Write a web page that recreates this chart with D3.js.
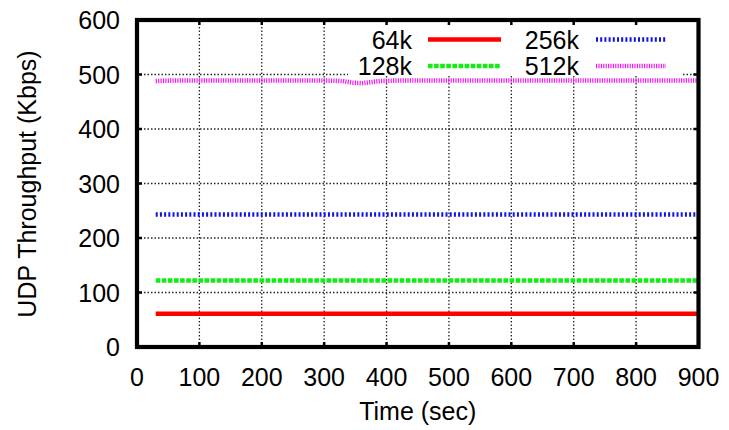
<!DOCTYPE html>
<html>
<head>
<meta charset="utf-8">
<script src="https://cdn.jsdelivr.net/npm/d3@7"></script>
<style>
  html, body { margin: 0; padding: 0; background: #fff; }
  svg { display: block; font-family: "Liberation Sans", Arial, Helvetica, sans-serif; }
</style>
</head>
<body>
<svg id="chart" width="729" height="430"></svg>
<script>
// ---- data ----
const times = [30, 60, 90, 120, 150, 180, 210, 240, 270, 300, 330, 345, 360, 375, 390, 420, 450, 480, 510, 540, 570, 600, 630, 660, 690, 720, 750, 780, 810, 840, 870, 900];
const s64k  = [61, 61, 61, 61, 61, 61, 61, 61, 61, 61, 61, 61, 61, 61, 61, 61, 61, 61, 61, 61, 61, 61, 61, 61, 61, 61, 61, 61, 61, 61, 61, 61];
const s128k = [122, 122, 122, 122, 122, 122, 122, 122, 122, 122, 122, 122, 122, 122, 122, 122, 122, 122, 122, 122, 122, 122, 122, 122, 122, 122, 122, 122, 122, 122, 122, 122];
const s256k = [243, 243, 243, 243, 243, 243, 243, 243, 243, 243, 243, 243, 243, 243, 243, 243, 243, 243, 243, 243, 243, 243, 243, 243, 243, 243, 243, 243, 243, 243, 243, 243];
const s512k = [488, 489, 489, 489, 489, 489, 489, 489, 489, 489, 488, 485, 484, 486, 488, 489, 489, 489, 489, 489, 489, 489, 489, 489, 489, 489, 489, 489, 489, 489, 489, 489];
const seriesNames = ["64k", "128k", "256k", "512k"];
const xTicks = [0, 100, 200, 300, 400, 500, 600, 700, 800, 900];
const yTicks = [0, 100, 200, 300, 400, 500, 600];

const seriesStyle = {
  "64k":  { color: "#ff0000", dash: null },
  "128k": { color: "#11ee11", dash: "4.6,1.5" },
  "256k": { color: "#1111ee", dash: "2,2.2" },
  "512k": { color: "#f01cf0", dash: "1.2,1.2" }
};
const seriesData = { "64k": s64k, "128k": s128k, "256k": s256k, "512k": s512k };

const svg = d3.select("#chart");
const L = 137, R = 698.5, T = 20, B = 347;
const x = d3.scaleLinear().domain([0, 900]).range([L, R]);
const y = d3.scaleLinear().domain([0, 600]).range([B, T]);
const fs = 25;

// grid
const grid = svg.append("g");
grid.selectAll("line.gx").data(xTicks.slice(1, -1)).enter().append("line")
  .attr("x1", d => x(d)).attr("x2", d => x(d)).attr("y1", B).attr("y2", T)
  .attr("stroke", "#000").attr("stroke-width", 1.3).attr("stroke-dasharray", "1.5,2").attr("opacity", 0.85);
grid.selectAll("line.gy").data(yTicks.slice(1, -1)).enter().append("line")
  .attr("y1", d => y(d)).attr("y2", d => y(d)).attr("x1", L).attr("x2", R)
  .attr("stroke", "#000").attr("stroke-width", 1.3).attr("stroke-dasharray", "1.5,2").attr("opacity", 0.85);

// legend box (opaque)
svg.append("rect").attr("x", 348).attr("y", T).attr("width", 335).attr("height", 56).attr("fill", "#fff");

// lines
const line = d3.line().x((d, i) => x(times[i])).y(d => y(d));
seriesNames.forEach(name => {
  const st = seriesStyle[name];
  const p = svg.append("path").datum(seriesData[name])
    .attr("d", line).attr("fill", "none")
    .attr("stroke", st.color).attr("stroke-width", 4.6);
  if (st.dash) p.attr("stroke-dasharray", st.dash);
});

// axes (frame + ticks)
const ax = svg.append("g");
const tickLen = 5;
const axB = d3.axisBottom(x).tickValues(xTicks).tickSize(0).tickPadding(0);
// custom ticks
ax.selectAll("line.tb").data(xTicks.slice(1, -1)).enter().append("line")
  .attr("x1", d => x(d)).attr("x2", d => x(d)).attr("y1", B).attr("y2", B - tickLen)
  .attr("stroke", "#000").attr("stroke-width", 2.5);
ax.selectAll("line.tt").data(xTicks.slice(1, -1)).enter().append("line")
  .attr("x1", d => x(d)).attr("x2", d => x(d)).attr("y1", T).attr("y2", T + tickLen)
  .attr("stroke", "#000").attr("stroke-width", 2.5);
ax.selectAll("line.tl").data(yTicks.slice(1, -1)).enter().append("line")
  .attr("y1", d => y(d)).attr("y2", d => y(d)).attr("x1", L).attr("x2", L + tickLen)
  .attr("stroke", "#000").attr("stroke-width", 2.5);
ax.selectAll("line.tr").data(yTicks.slice(1, -1)).enter().append("line")
  .attr("y1", d => y(d)).attr("y2", d => y(d)).attr("x1", R).attr("x2", R - tickLen)
  .attr("stroke", "#000").attr("stroke-width", 2.5);
ax.append("rect").attr("x", L).attr("y", T).attr("width", R - L).attr("height", B - T)
  .attr("fill", "none").attr("stroke", "#000").attr("stroke-width", 4.2);

// tick labels
svg.append("g").selectAll("text").data(xTicks).enter().append("text")
  .attr("x", d => x(d)).attr("y", 386).attr("text-anchor", "middle")
  .attr("font-size", fs).text(d => d);
svg.append("g").selectAll("text").data(yTicks).enter().append("text")
  .attr("x", 120).attr("y", d => y(d) + 9).attr("text-anchor", "end")
  .attr("font-size", fs).text(d => d);

// titles
svg.append("text").attr("x", x(450)).attr("y", 420).attr("text-anchor", "middle")
  .attr("font-size", fs).text("Time (sec)");
svg.append("text").attr("transform", "translate(36,184) rotate(-90)").attr("text-anchor", "middle")
  .attr("font-size", fs).text("UDP Throughput (Kbps)");

// legend
const legendPos = [
  { name: "64k",  tx: 412, sx1: 428, sx2: 501, sy: 39.5 },
  { name: "128k", tx: 412, sx1: 428, sx2: 501, sy: 66 },
  { name: "256k", tx: 579, sx1: 596, sx2: 666, sy: 39.5 },
  { name: "512k", tx: 579, sx1: 596, sx2: 666, sy: 66 }
];
const lg = svg.append("g");
legendPos.forEach(p => {
  const st = seriesStyle[p.name];
  lg.append("text").attr("x", p.tx).attr("y", p.sy + 9).attr("text-anchor", "end")
    .attr("font-size", fs).text(p.name);
  const l = lg.append("line").attr("x1", p.sx1).attr("x2", p.sx2).attr("y1", p.sy).attr("y2", p.sy)
    .attr("stroke", st.color).attr("stroke-width", 4.6);
  if (st.dash) l.attr("stroke-dasharray", st.dash);
});
</script>
</body>
</html>
